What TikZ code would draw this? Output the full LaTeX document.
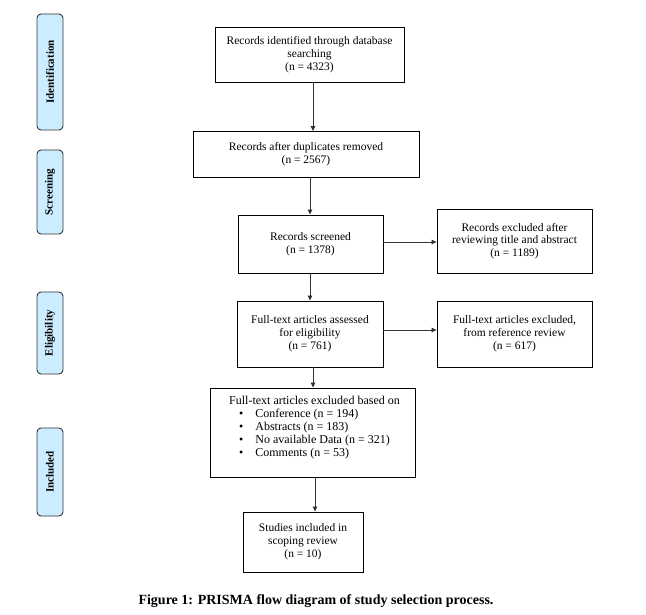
\documentclass[tikz,border=0pt]{standalone}
\usepackage{fontspec}
\setmainfont{Liberation Serif}
\usetikzlibrary{arrows.meta}
\definecolor{sidefill}{RGB}{204,236,255}
\tikzset{
  box/.style={draw=black, line width=0.9pt, rectangle, inner sep=0pt, align=center,
    font=\fontsize{11.5}{12.8}\selectfont},
  side/.style={draw=black!80, line width=0.9pt, rounded corners=4pt, fill=sidefill,
    inner sep=0pt, font=\bfseries\fontsize{11}{12}\selectfont},
  arr/.style={draw=black!80, line width=0.8pt, -{Triangle[length=5pt,width=4.5pt]}},
}
\begin{document}
\begin{tikzpicture}[x=1pt,y=-1pt]
\useasboundingbox (0,0) rectangle (646,615);
% side labels
\node[side, minimum width=26pt, minimum height=116pt] (sid) at (50,72) {\rotatebox{90}{Identification}};
\node[side, minimum width=26pt, minimum height=84pt] (sscr) at (50,192) {\rotatebox{90}{Screening}};
\node[side, minimum width=26pt, minimum height=82pt] (seli) at (50,333) {\rotatebox{90}{Eligibility}};
\node[side, minimum width=26pt, minimum height=88pt] (sinc) at (50,472) {\rotatebox{90}{Included}};
% main boxes
\node[box, minimum width=189pt, minimum height=55pt] (b1) at (309.5,54.5) {Records identified through database\\searching\\(n = 4323)};
\node[box, minimum width=226pt, minimum height=46pt] (b2) at (306,154.5) {Records after duplicates removed\\(n = 2567)};
\node[box, minimum width=145pt, minimum height=58pt] (b3) at (310.5,244) {Records screened\\(n = 1378)};
\node[box, minimum width=155pt, minimum height=64pt] (b3r) at (514.5,241) {Records excluded after\\reviewing title and abstract\\(n = 1189)};
\node[box, minimum width=146pt, minimum height=66pt] (b4) at (310,334) {Full-text articles assessed\\for eligibility\\(n = 761)};
\node[box, minimum width=155pt, minimum height=66pt] (b4r) at (514.5,334) {Full-text articles excluded,\\from reference review\\(n = 617)};
\node[box, minimum width=205pt, minimum height=89pt] (b5) at (312.5,432.5) {};
\node[anchor=north west, inner sep=0pt, align=left, font=\fontsize{12}{13}\selectfont] (b5t) at (229,396)
  {Full-text articles excluded based on\\
   \hspace*{10pt}\textbullet\hspace{12pt}Conference (n = 194)\\
   \hspace*{10pt}\textbullet\hspace{12pt}Abstracts (n = 183)\\
   \hspace*{10pt}\textbullet\hspace{12pt}No available Data (n = 321)\\
   \hspace*{10pt}\textbullet\hspace{12pt}Comments (n = 53)};
\node[box, minimum width=120pt, minimum height=60pt] (b6) at (303,542) {Studies included in\\scoping review\\(n = 10)};
% connectors
\draw[arr] (b1.south -| 313,0) -- (b2.north -| 313,0);
\draw[arr] (b2.south -| 310,0) -- (b3.north -| 310,0);
\draw[arr] (b3.east |- 0,242) -- (b3r.west |- 0,242);
\draw[arr] (b3.south -| 310,0) -- (b4.north -| 310,0);
\draw[arr] (b4.east |- 0,330) -- (b4r.west |- 0,330);
\draw[arr] (b4.south -| 313,0) -- (b5.north -| 313,0);
\draw[arr] (b5.south -| 315,0) -- (b6.north -| 315,0);
% caption
\node[font=\bfseries\fontsize{14}{16}\selectfont, inner sep=0pt] (cap) at (316,601) {Figure 1: PRISMA flow diagram of study selection process.};
\end{tikzpicture}
\end{document}
